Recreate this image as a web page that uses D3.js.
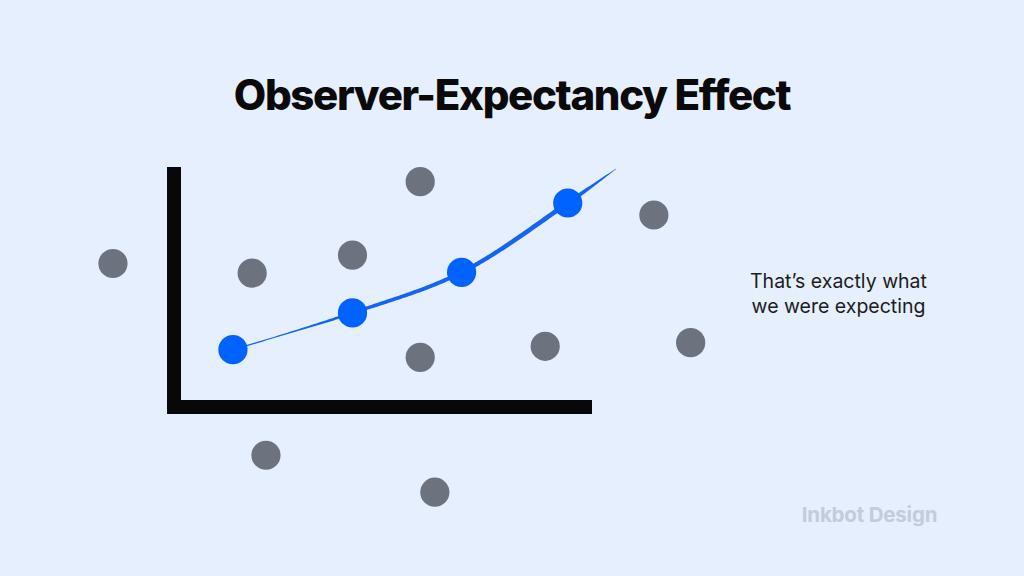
<!DOCTYPE html>
<html>
<head>
<meta charset="utf-8">
<script src="https://cdn.jsdelivr.net/npm/d3@7/dist/d3.min.js"></script>
<style>
  html, body { margin: 0; padding: 0; background: #e6effd; }
  svg { display: block; }
</style>
</head>
<body>
<svg id="chart" width="1024" height="576"></svg>
<script>
// ---- Data (abstract chart units) ----
const titleText = "Observer-Expectancy Effect";
const noteLines = ["That\u2019s exactly what", "we were expecting"];
const watermark = "Inkbot Design";

// Expected results (blue) that sit on the trend line
const expectedX = [1.41, 4.27, 6.88, 9.42];
const expectedY = [2.39, 3.92, 5.61, 8.50];

// Trend line control points (brush stroke)
const trendX = [1.41, 4.27, 6.88, 9.42, 10.57];
const trendY = [2.39, 3.92, 5.61, 8.50, 9.92];

// Ignored observations (gray)
const ignoredX = [-1.46, 1.87, 4.27, 5.89, 5.89, 8.88, 11.48, 12.36, 2.20, 6.24];
const ignoredY = [5.98, 5.58, 6.33, 9.39, 2.07, 2.53, 8.00, 2.68, -2.01, -3.55];

// ---- Scales ----
const x = d3.scaleLinear().domain([0, 10]).range([174, 592]);
const y = d3.scaleLinear().domain([0, 10]).range([407, 167]);

const svg = d3.select("#chart");

svg.append("rect").attr("width", 1024).attr("height", 576).attr("fill", "#e6effd");

// Title
svg.append("text")
  .attr("x", 512).attr("y", 110)
  .attr("text-anchor", "middle")
  .attr("font-family", "Inter, 'Noto Sans', sans-serif")
  .attr("font-weight", 800)
  .attr("font-size", 42)
  .attr("letter-spacing", -1.35)
  .attr("fill", "#0a0a0a")
  .text(titleText);

// Axes as thick L
const axisG = svg.append("g");
axisG.append("rect")
  .attr("x", x(0) - 7).attr("y", y(10))
  .attr("width", 14).attr("height", y(0) + 7 - y(10))
  .attr("fill", "#080808");
axisG.append("rect")
  .attr("x", x(0) - 7).attr("y", y(0) - 7)
  .attr("width", x(10) - x(0) + 7).attr("height", 14)
  .attr("fill", "#080808");

// Ignored (gray) points
svg.append("g").selectAll("circle")
  .data(ignoredX.map((d, i) => [d, ignoredY[i]]))
  .join("circle")
  .attr("cx", d => x(d[0])).attr("cy", d => y(d[1]))
  .attr("r", 14.6)
  .attr("fill", "#6c737f");

// Brush stroke trend line, variable width
const linePts = trendX.map((d, i) => [x(d), y(trendY[i])]);
const lineGen = d3.line().curve(d3.curveCatmullRom.alpha(0.5));
const tmp = svg.append("path").attr("d", lineGen(linePts)).attr("fill", "none").attr("stroke", "none");
const node = tmp.node();
const L = node.getTotalLength();
const N = 240;
const left = [], right = [];
function widthAt(t) {
  // thin at start, thicker through middle, taper at the end
  let w;
  if (t < 0.1) w = 1.2;
  else if (t < 0.35) w = 1.2 + (t - 0.1) / 0.25 * 2.4;
  else if (t < 0.85) w = 3.6 + (t - 0.35) / 0.5 * 1.2;
  else w = 4.8 * (1 - (t - 0.85) / 0.15) + 0.6;
  return w;
}
for (let i = 0; i <= N; i++) {
  const t = i / N;
  const p = node.getPointAtLength(t * L);
  const p2 = node.getPointAtLength(Math.min(L, t * L + 0.5));
  const p1 = node.getPointAtLength(Math.max(0, t * L - 0.5));
  let dx = p2.x - p1.x, dy = p2.y - p1.y;
  const len = Math.hypot(dx, dy) || 1;
  dx /= len; dy /= len;
  const w = widthAt(t) / 2;
  left.push([p.x - dy * w, p.y + dx * w]);
  right.push([p.x + dy * w, p.y - dx * w]);
}
tmp.remove();
svg.append("path")
  .attr("d", d3.line()(left.concat(right.reverse())) + "Z")
  .attr("fill", "#1565f0");

// Expected (blue) points
svg.append("g").selectAll("circle")
  .data(expectedX.map((d, i) => [d, expectedY[i]]))
  .join("circle")
  .attr("cx", d => x(d[0])).attr("cy", d => y(d[1]))
  .attr("r", 14.6)
  .attr("fill", "#0062ff");

// Annotation
const note = svg.append("text")
  .attr("text-anchor", "middle")
  .attr("font-family", "Inter, 'Noto Sans', sans-serif")
  .attr("font-size", 19.5)
  .attr("fill", "#1c1c1c");
noteLines.forEach((s, i) => {
  note.append("tspan").attr("x", 838.5).attr("y", 288 + i * 25).text(s);
});

// Watermark
svg.append("text")
  .attr("x", 869.5).attr("y", 522)
  .attr("text-anchor", "middle")
  .attr("font-family", "Inter, 'Noto Sans', sans-serif")
  .attr("font-weight", 700)
  .attr("font-size", 20.5)
  .attr("letter-spacing", -0.2)
  .attr("fill", "#c3ccda")
  .text(watermark);
</script>
</body>
</html>
